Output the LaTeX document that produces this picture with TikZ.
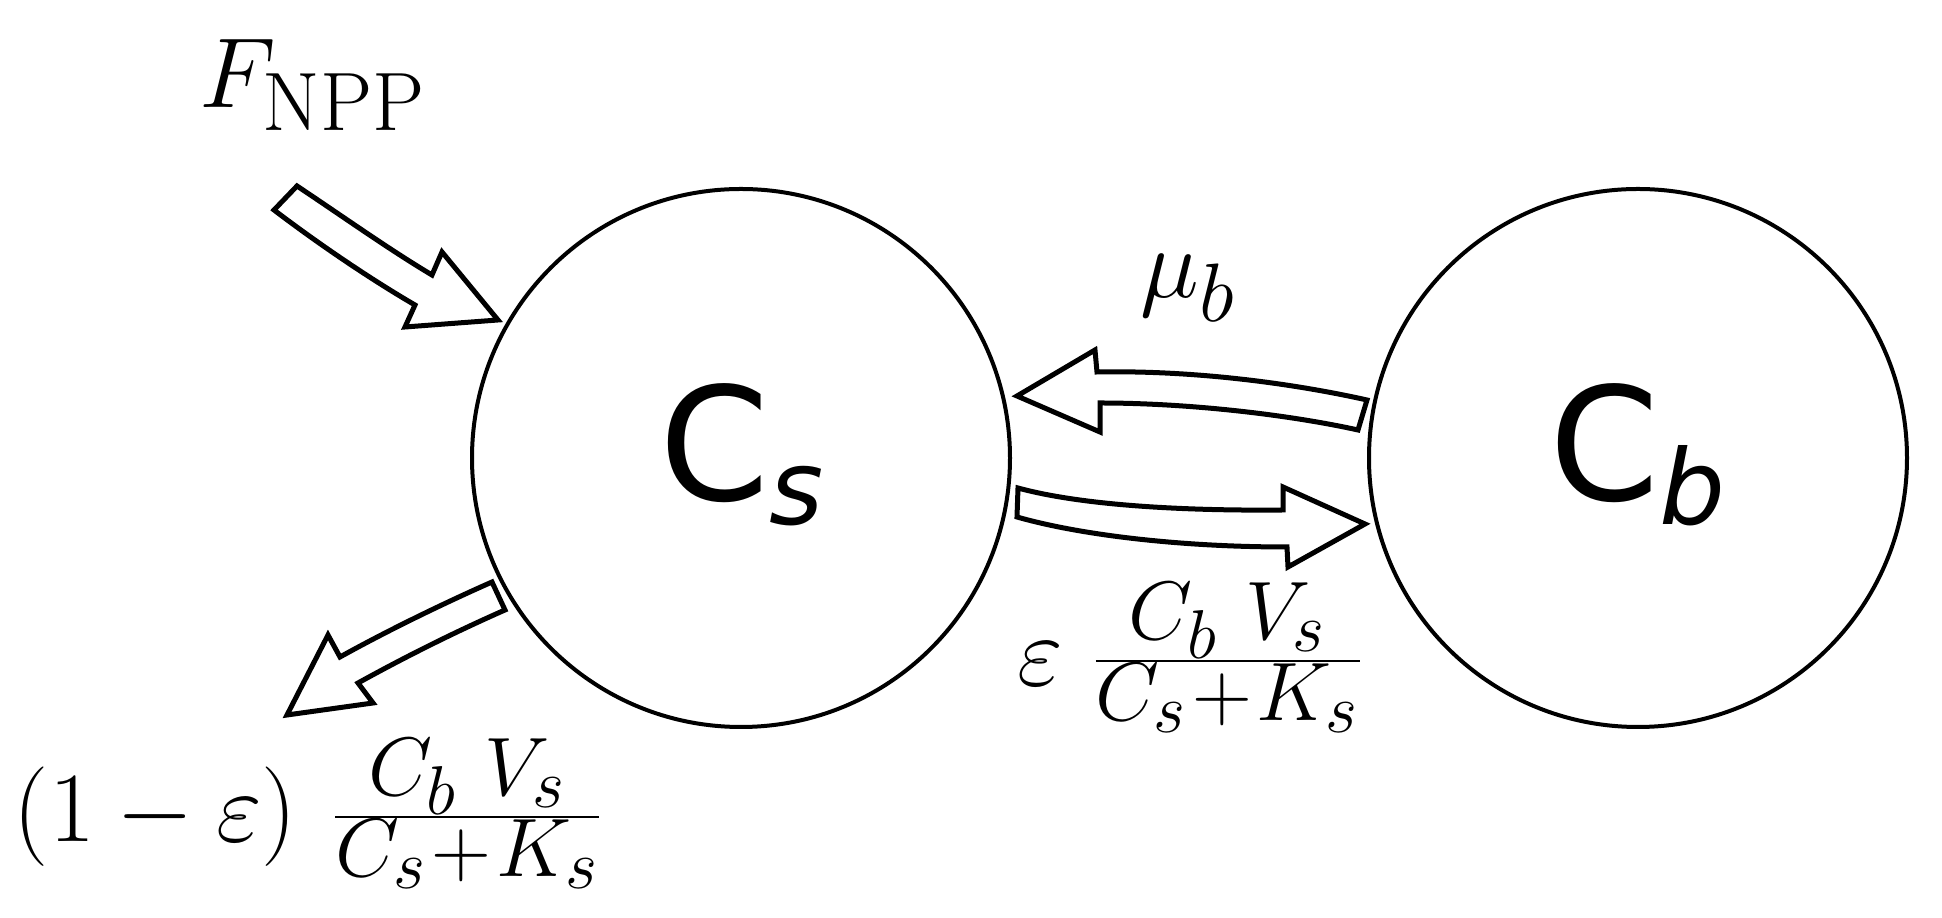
\RequirePackage{fix-cm}
\documentclass[tikz,border=0pt]{standalone}
\usepackage{fontspec}
\newfontfamily\djv{DejaVu Sans}
\newcommand{\ratefrac}{\frac{C_b\mskip6mu V_s}{C_s\mskip1mu{+}\mskip1mu K_s}}
\begin{document}
\begin{tikzpicture}[x=0.25pt,y=-0.25pt,
  pool/.style={draw, circle, line width=1pt, minimum size=134.5pt, inner sep=0pt},
  blockarrow/.style={draw, line width=1.25pt, line join=miter, fill=white},
  mathlab/.style={inner sep=0pt, anchor=base west, font=\Huge},
  poollab/.style={inner sep=0pt, anchor=base west, font=\djv\fontsize{39.4}{40}\selectfont}]
\useasboundingbox (0,0) rectangle (1942,918);
% pools
\node[pool] (cs) at (741,458) {};
\node[pool] (cb) at (1638,458) {};
\node[poollab] (cslab) at (659,501) {C\raisebox{-6pt}{\itshape\fontsize{26}{26}\selectfont s}};
\node[poollab] (cblab) at (1549,501) {C\raisebox{-6pt}{\itshape\fontsize{26}{26}\selectfont b}};
% inflow F_NPP
\draw[blockarrow] (297,186) .. controls (345,218) and (390,250) .. (432,275) -- (442,252) -- (498,320) -- (405,327) -- (415,305) .. controls (372,280) and (320,245) .. (274,210) -- cycle;
% outflow
\draw[blockarrow] (492,582) .. controls (440,605) and (385,632) .. (340,657) -- (328,635) -- (287,715) -- (373,703) -- (358,683) .. controls (405,657) and (455,632) .. (505,610) -- cycle;
% mu_b : Cb -> Cs
\draw[blockarrow] (1017,396) -- (1095,350) -- (1097,372) .. controls (1200,370) and (1300,385) .. (1367,400) -- (1358,430) .. controls (1290,415) and (1190,403) .. (1100,403) -- (1100,432) -- cycle;
% eps : Cs -> Cb
\draw[blockarrow] (1018,488) .. controls (1080,505) and (1180,511) .. (1283,510) -- (1283,487) -- (1365,524) -- (1288,567) -- (1287,547) .. controls (1180,547) and (1080,535) .. (1017,517) -- cycle;
% labels
\node[mathlab] (fnpp) at (199,108) {$F_{\mathrm{NPP}}$};
\node[mathlab] (mub) at (1140,298) {$\mu_b$};
\node[mathlab] (epsfrac) at (1017,686) {$\varepsilon\;\ratefrac$};
\node[mathlab] (oneeps) at (13,842) {$(1-\varepsilon)\mskip6mu\ratefrac$};
\end{tikzpicture}
\end{document}
